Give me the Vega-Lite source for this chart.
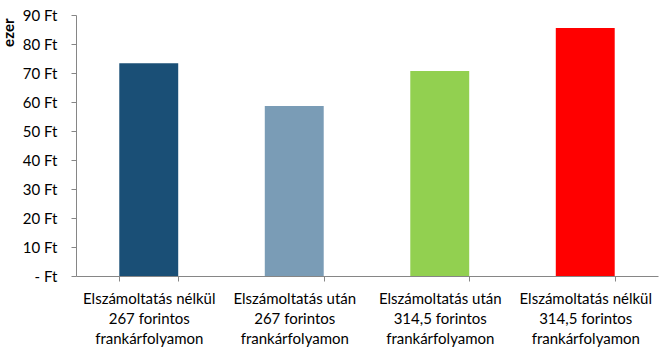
{
  "$schema": "https://vega.github.io/schema/vega-lite/v6.json",
  "width": 582,
  "height": 261,
  "autosize": {"type": "none"},
  "padding": {"left": 76, "top": 15, "right": 8, "bottom": 80},
  "background": "white",
  "config": {
    "view": {"stroke": null},
    "font": "Lato",
    "axis": {
      "labelFont": "Lato",
      "labelFontSize": 15,
      "labelColor": "#000000",
      "domainColor": "#868686",
      "tickColor": "#868686",
      "grid": false
    }
  },
  "data": {
    "values": [
      {"cat": "Elszámoltatás nélkül|267 forintos|frankárfolyamon", "value": 73.4, "color": "#1a4f76"},
      {"cat": "Elszámoltatás után|267 forintos|frankárfolyamon", "value": 58.6, "color": "#7a9cb6"},
      {"cat": "Elszámoltatás után|314,5 forintos|frankárfolyamon", "value": 70.7, "color": "#92d050"},
      {"cat": "Elszámoltatás nélkül|314,5 forintos|frankárfolyamon", "value": 85.5, "color": "#ff0000"}
    ]
  },
  "mark": {"type": "bar"},
  "encoding": {
    "x": {
      "field": "cat",
      "type": "nominal",
      "sort": null,
      "scale": {"paddingInner": 0.595, "paddingOuter": 0.2975},
      "axis": {
        "title": null,
        "labelAngle": 0,
        "labelExpr": "split(datum.label, '|')",
        "labelLineHeight": 20,
        "labelPadding": 10,
        "tickBand": "extent",
        "tickSize": 5,
        "labelLimit": 200
      }
    },
    "y": {
      "field": "value",
      "type": "quantitative",
      "scale": {"domain": [0, 90]},
      "axis": {
        "values": [0, 10, 20, 30, 40, 50, 60, 70, 80, 90],
        "labelExpr": "datum.value == 0 ? '- Ft' : datum.value + ' Ft'",
        "tickSize": 5,
        "labelPadding": 14,
        "title": "ezer",
        "titleFont": "Lato",
        "titleFontSize": 15,
        "titleFontWeight": "bold",
        "titleColor": "#000000",
        "titleAnchor": "end",
        "titleAngle": -90,
        "titleBaseline": "bottom",
        "titleX": -60,
        "titleY": 3,
        "titleAlign": "right"
      }
    },
    "color": {"field": "color", "type": "nominal", "scale": null}
  }
}
